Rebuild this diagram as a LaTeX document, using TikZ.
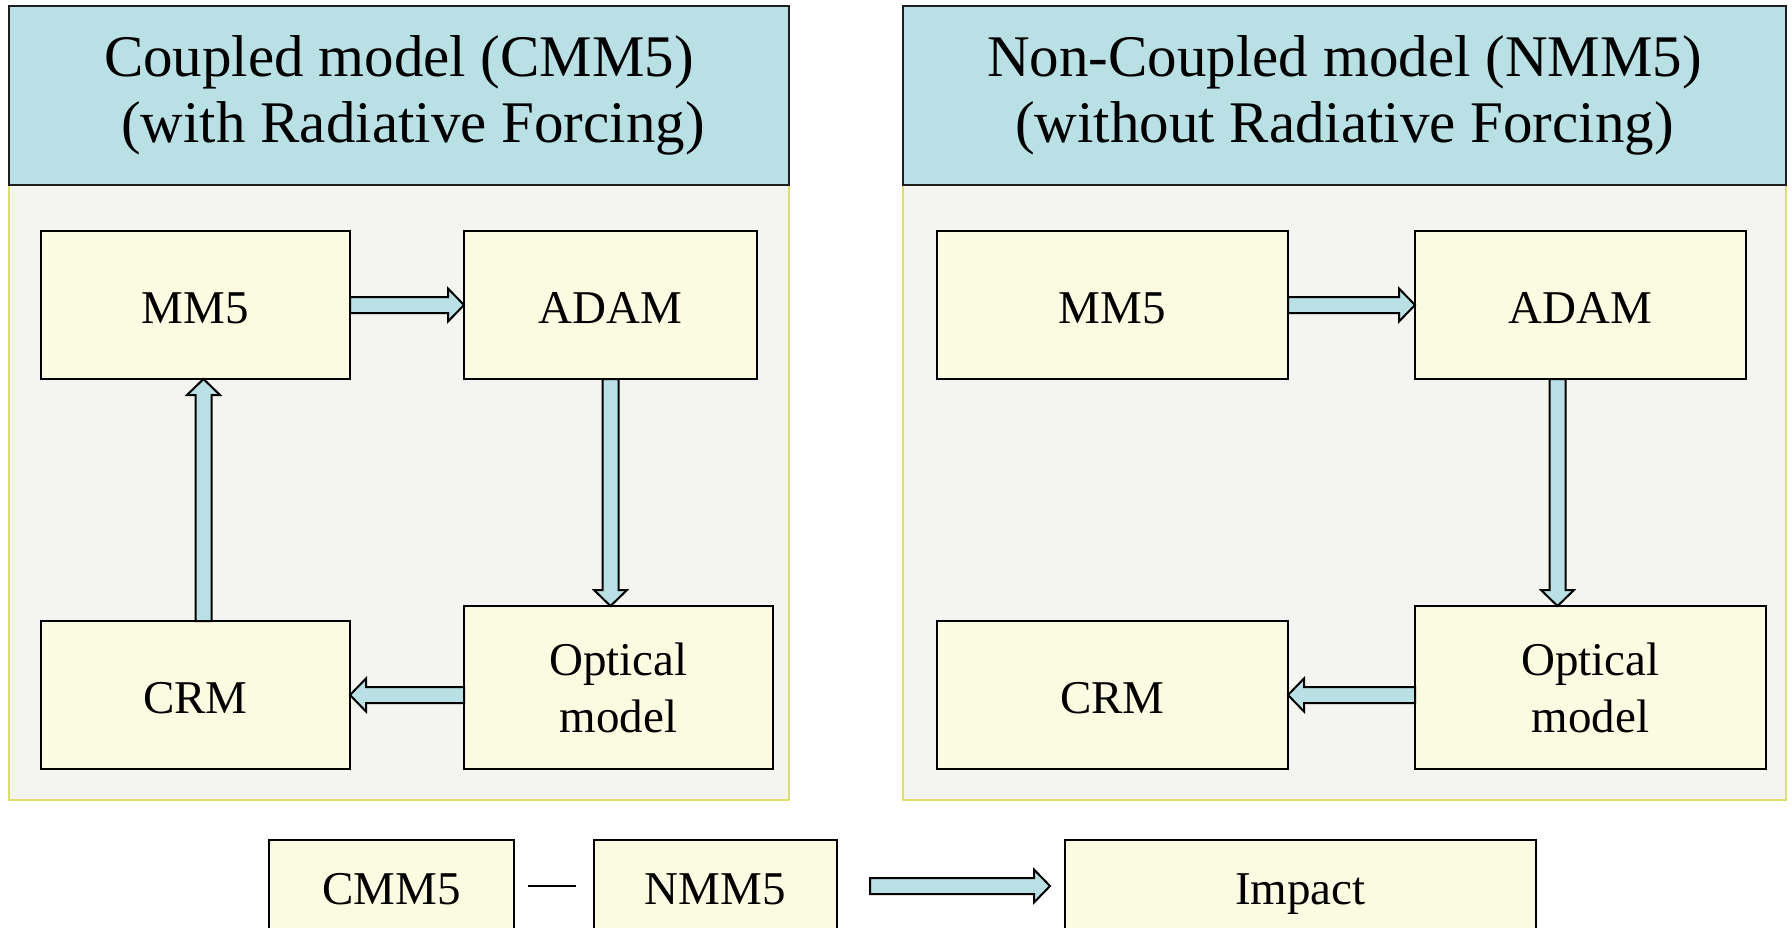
\documentclass[tikz,border=0pt]{standalone}
\usepackage{fontspec}
\setmainfont{Liberation Serif}
\usetikzlibrary{calc}

\definecolor{headblue}{RGB}{185,224,228}
\definecolor{panelgray}{RGB}{244,245,240}
\definecolor{panelline}{RGB}{222,222,110}
\definecolor{boxcream}{RGB}{251,251,226}
\definecolor{framedark}{RGB}{30,30,30}

\tikzset{
  header/.style={draw=framedark, line width=2, fill=headblue,
    inner sep=0, outer sep=0, align=center,
    font=\fontsize{59}{66}\selectfont},
  panel/.style={draw=panelline, line width=2, fill=panelgray},
  modelbox/.style={draw=black, line width=2, fill=boxcream,
    inner sep=0, outer sep=0, align=center,
    font=\fontsize{47}{57}\selectfont},
  oneline/.style={text height=37pt, text depth=0pt},
  % block arrow drawn as an outlined polygon between two points
  blockarrow/.style={draw=black, line width=2, fill=headblue, line join=miter,
    to path={
      let \p1=(\tikztostart), \p2=(\tikztotarget),
          \n1={atan2(\y2-\y1,\x2-\x1)},
          \n2={veclen(\x2-\x1,\y2-\y1)-16}
      in ($(\p1)+(\n1+90:8pt)$) -- ++(\n1:\n2) -- ++(\n1+90:8.5pt)
         -- (\p2)
         -- ($(\p2)+(\n1:-16pt)+(\n1-90:16.5pt)$) -- ++(\n1+90:8.5pt)
         -- ($(\p1)+(\n1-90:8pt)$) -- cycle}},
  dashlink/.style={draw=black, line width=2}
}

\begin{document}
\begin{tikzpicture}[x=1pt,y=-1pt]
\useasboundingbox (0,0) rectangle (1792,927);
\clip (0,0) rectangle (1792,927);

% ---------- coupled model panel ----------
\path[panel] (9,185) rectangle (789,800);
\node[header, minimum width=780, minimum height=179] (headL) at (399,95.5)
  {Coupled model (CMM5)\\\hspace*{28pt}(with Radiative Forcing)};

\node[modelbox, oneline, minimum width=309, minimum height=148] (mm5L)  at (195.5,305) {MM5};
\node[modelbox, oneline, minimum width=293, minimum height=148] (adamL) at (610.5,305) {ADAM};
\node[modelbox, oneline, minimum width=309, minimum height=148] (crmL)  at (195.5,695) {CRM};
\node[modelbox, minimum width=309, minimum height=163] (optL)  at (618.5,687.5) {Optical\\model};

\draw[blockarrow] (mm5L.east) to (adamL.west);
\draw[blockarrow] (adamL.south) to (adamL.south |- optL.north);
\draw[blockarrow] (optL.west |- crmL.east) to (crmL.east);
\draw[blockarrow] ([xshift=8]crmL.north) to ([xshift=8]mm5L.south);

% ---------- non-coupled model panel ----------
\path[panel] (903,185) rectangle (1786,800);
\node[header, minimum width=883, minimum height=179] (headR) at (1344.5,95.5)
  {Non-Coupled model (NMM5)\\(without Radiative Forcing)};

\node[modelbox, oneline, minimum width=351, minimum height=148] (mm5R)  at (1112.5,305) {MM5};
\node[modelbox, oneline, minimum width=331, minimum height=148] (adamR) at (1580.5,305) {ADAM};
\node[modelbox, oneline, minimum width=351, minimum height=148] (crmR)  at (1112.5,695) {CRM};
\node[modelbox, minimum width=351, minimum height=163] (optR)  at (1590.5,687.5) {Optical\\model};

\draw[blockarrow] (mm5R.east) to (adamR.west);
\draw[blockarrow] ([xshift=-23]adamR.south) to ([xshift=-23]adamR.south |- optR.north);
\draw[blockarrow] (optR.west |- crmR.east) to (crmR.east);

% ---------- comparison row ----------
\node[modelbox, oneline, minimum width=245, minimum height=92] (cmm5)   at (391.5,886) {CMM5};
\node[modelbox, oneline, minimum width=243, minimum height=92] (nmm5)   at (715.5,886) {NMM5};
\node[modelbox, oneline, minimum width=471, minimum height=92] (impact) at (1300.5,886) {Impact};

\draw[dashlink] ([xshift=14]cmm5.east) -- ([xshift=-18]nmm5.west);
\draw[blockarrow] ([xshift=33]nmm5.east) to ([xshift=-15]impact.west);
\end{tikzpicture}
\end{document}
